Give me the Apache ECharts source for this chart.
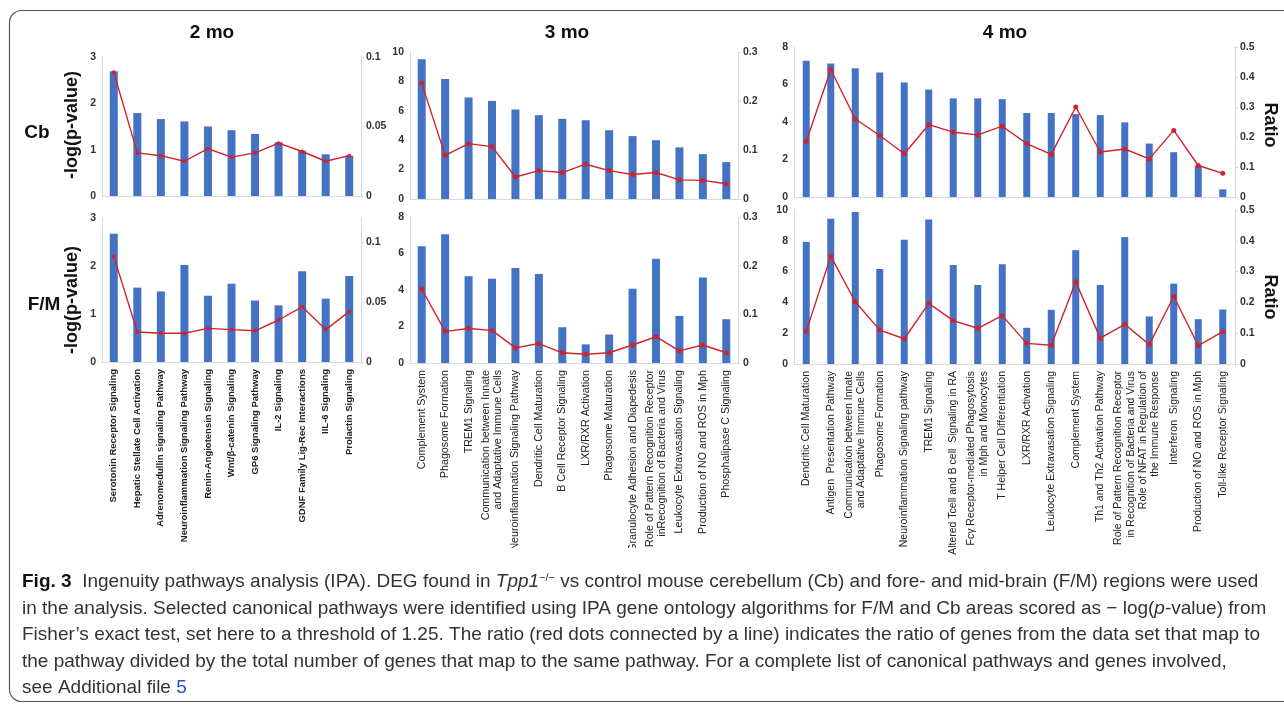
<!DOCTYPE html>
<html>
<head>
<meta charset="utf-8">
<script src="https://cdn.jsdelivr.net/npm/echarts@6/dist/echarts.min.js"></script>
<style>
  html, body { margin: 0; background: #fff; }
  #chart { width: 1284px; height: 706px; }
</style>
</head>
<body>
<div id="chart"></div>
<script>
// ── categories ──
const cats2 = [
  "Serotonin Receptor Signaling", "Hepatic Stellate Cell Activation", "Adrenomedullin signaling Pathway",
  "Neuroinflammation Signaling Pathway", "Renin-Angiotensin Signaling", "Wnt/β-catenin Signaling",
  "GP6 Signaling Pathway", "IL-2 Signaling", "GDNF Family Lig-Rec Interactions", "IIL-6 Signaling",
  "Prolactin Signaling"
];
const cats3 = [
  "Complement System", "Phagosome Formation", "TREM1 Signaling",
  "Communication between Innate\nand Adaptative Immune Cells", "Neuroinflammation Signaling Pathway",
  "Dendritic Cell Maturation", "B Cell Receptor Signaling", "LXR/RXR Activation", "Phagosome Maturation",
  "Granulocyte Adhesion and Diapedesis", "Role of Pattern Recognition Receptor\ninRecognition of Bacteria and Virus",
  "Leukocyte Extravasation Signaling", "Production of NO and ROS in Mph", "Phosphalipase C Signaling"
];
const cats4 = [
  "Dendritic Cell Maturation", "Antigen  Presentation Pathway",
  "Communication between Innate\nand Adaptative Immune Cells", "Phagosome Formation",
  "Neuroinflammation Signaling pathway", "TREM1 Signaling", "Altered Tcell and B cell  Signaling in RA",
  "Fcγ Receptor-mediated Phagosytosis\nin Mph and Monocytes", "T Helper Cell Differentiation",
  "LXR/RXR Activation", "Leukocyte Extravasation Signaling", "Complement System",
  "Th1 and Th2 Activation Pathway", "Role of Pattern Recognition Receptor\nin Recognition of Bacteria and Virus",
  "Role of NFAT in Regulation of\nthe Immune Response", "Interferon  Signaling",
  "Production of NO and ROS in Mph", "Toll-like Receptor Signaling"
];

// ── -log(p-value) bars and ratio line, per age / region ──
const cb2Bar = [2.69, 1.79, 1.66, 1.61, 1.50, 1.42, 1.34, 1.16, 0.98, 0.90, 0.87];
const cb2Ratio = [0.089, 0.031, 0.029, 0.025, 0.034, 0.028, 0.031, 0.038, 0.032, 0.025, 0.029];
const fm2Bar = [2.67, 1.55, 1.47, 2.02, 1.38, 1.63, 1.28, 1.18, 1.89, 1.32, 1.79];
const fm2Ratio = [0.088, 0.025, 0.024, 0.024, 0.028, 0.027, 0.026, 0.035, 0.046, 0.027, 0.042];

const cb3Bar = [9.50, 8.17, 6.90, 6.67, 6.09, 5.70, 5.45, 5.36, 4.68, 4.28, 4.00, 3.51, 3.05, 2.51];
const cb3Ratio = [0.236, 0.089, 0.113, 0.107, 0.045, 0.058, 0.054, 0.071, 0.058, 0.050, 0.054, 0.039, 0.038, 0.031];
const fm3Bar = [6.40, 7.05, 4.76, 4.62, 5.20, 4.87, 1.96, 1.02, 1.56, 4.07, 5.71, 2.58, 4.69, 2.40];
const fm3Ratio = [0.152, 0.065, 0.071, 0.067, 0.031, 0.040, 0.021, 0.018, 0.021, 0.037, 0.054, 0.025, 0.037, 0.021];

const cb4Bar = [7.27, 7.12, 6.87, 6.64, 6.11, 5.73, 5.26, 5.26, 5.22, 4.48, 4.48, 4.42, 4.37, 3.98, 2.85, 2.39, 1.68, 0.41];
const cb4Ratio = [0.185, 0.425, 0.26, 0.205, 0.144, 0.241, 0.216, 0.207, 0.236, 0.178, 0.142, 0.30, 0.15, 0.16, 0.127, 0.222, 0.105, 0.079];
const fm4Bar = [7.93, 9.43, 9.87, 6.17, 8.07, 9.39, 6.43, 5.13, 6.48, 2.35, 3.52, 7.39, 5.13, 8.24, 3.09, 5.22, 2.91, 3.54];
const fm4Ratio = [0.106, 0.35, 0.202, 0.110, 0.082, 0.197, 0.141, 0.116, 0.157, 0.067, 0.061, 0.267, 0.084, 0.129, 0.063, 0.219, 0.060, 0.105];

// ── caption lines ──
const captionLines = [
  "{b|Fig. 3}  Ingenuity pathways analysis (IPA). DEG found in {i|Tpp1}{s|−/−} vs control mouse cerebellum (Cb) and fore- and mid-brain (F/M) regions were used",
  "in the analysis. Selected canonical pathways were identified using IPA gene ontology algorithms for F/M and Cb areas scored as − log({i|p}-value) from",
  "Fisher’s exact test, set here to a threshold of 1.25. The ratio (red dots connected by a line) indicates the ratio of genes from the data set that map to",
  "the pathway divided by the total number of genes that map to the same pathway. For a complete list of canonical pathways and genes involved,",
  "see Additional file {l|5}"
];

const FONT = '"Liberation Sans", Arial, sans-serif';
const BLUE = "#4472C4", RED = "#D3222A", AXIS = "#d9d9d9";

const panels = [
  { grid: { left: 102, top: 57, width: 259, height: 139 }, cats: cats2, bar: cb2Bar, ratio: cb2Ratio,
    yMax: 3, yInt: 1, rMax: 0.1, rInt: 0.05, bw: 8, sym: 4, cat: null },
  { grid: { left: 102, top: 218, width: 259, height: 144 }, cats: cats2, bar: fm2Bar, ratio: fm2Ratio,
    yMax: 3, yInt: 1, rMax: 0.12, rInt: 0.05, bw: 8, sym: 4, cat: { size: 9.5, weight: "bold" } },
  { grid: { left: 410, top: 52, width: 328, height: 147 }, cats: cats3, bar: cb3Bar, ratio: cb3Ratio,
    yMax: 10, yInt: 2, rMax: 0.3, rInt: 0.1, bw: 8, sym: 5, cat: null },
  { grid: { left: 410, top: 217, width: 328, height: 146 }, cats: cats3, bar: fm3Bar, ratio: fm3Ratio,
    yMax: 8, yInt: 2, rMax: 0.3, rInt: 0.1, bw: 8, sym: 5, cat: { size: 10.7, weight: "normal" } },
  { grid: { left: 794, top: 47, width: 441, height: 150 }, cats: cats4, bar: cb4Bar, ratio: cb4Ratio,
    yMax: 8, yInt: 2, rMax: 0.5, rInt: 0.1, bw: 7, sym: 5, cat: null },
  { grid: { left: 794, top: 210, width: 441, height: 154 }, cats: cats4, bar: fm4Bar, ratio: fm4Ratio,
    yMax: 10, yInt: 2, rMax: 0.5, rInt: 0.1, bw: 7, sym: 5, cat: { size: 10.5, weight: "normal" } },
];

const tickLabel = { fontFamily: FONT, fontSize: 10.5, fontWeight: "bold", color: "#333" };
const grids = [], xAxes = [], yAxes = [], series = [];

panels.forEach((p, i) => {
  grids.push(p.grid);
  xAxes.push({
    type: "category", gridIndex: i, data: p.cats,
    axisLine: { lineStyle: { color: AXIS } }, axisTick: { show: false },
    axisLabel: p.cat ? {
      rotate: 90, interval: 0, margin: 7, align: "right", lineHeight: 12.5,
      fontFamily: FONT, fontSize: p.cat.size, fontWeight: p.cat.weight, color: "#222"
    } : { show: false },
  });
  yAxes.push({
    type: "value", gridIndex: i, position: "left", min: 0, max: p.yMax, interval: p.yInt,
    splitLine: { show: false }, axisTick: { show: false },
    axisLine: { show: true, lineStyle: { color: AXIS } },
    axisLabel: { ...tickLabel, margin: 6 },
  });
  // 2 mo F/M ratio axis tops out at 0.12 with no label there
  const rem = p.rMax % p.rInt;
  yAxes.push({
    type: "value", gridIndex: i, position: "right", min: 0, max: p.rMax, interval: p.rInt,
    splitLine: { show: false },
    axisTick: { show: true, length: 3, lineStyle: { color: AXIS } },
    axisLine: { show: true, lineStyle: { color: AXIS } },
    axisLabel: { ...tickLabel, margin: 5, showMaxLabel: rem < 1e-9 || p.rInt - rem < 1e-9 },
  });
  series.push({
    type: "bar", xAxisIndex: i, yAxisIndex: 2 * i, data: p.bar,
    barWidth: p.bw, itemStyle: { color: BLUE },
  });
  series.push({
    type: "line", xAxisIndex: i, yAxisIndex: 2 * i + 1, data: p.ratio,
    symbol: "circle", symbolSize: p.sym,
    lineStyle: { color: RED, width: 1.4 }, itemStyle: { color: RED },
  });
});

// ── titles, side labels, frame and caption ──
const bold = (text, x, y, size, rot) => ({
  type: "text", x, y, rotation: rot || 0, z: 50,
  style: { text, fontFamily: FONT, fontSize: size, fontWeight: "bold", fill: "#111", align: "center", verticalAlign: "middle" },
});
const capTok = (extra) => ({ fontFamily: FONT, fontSize: 19, fill: "#333", ...extra });

const graphic = [
  { type: "rect", z: 0, shape: { x: 9.5, y: 10.5, width: 1320, height: 691, r: 12 },
    style: { fill: "none", stroke: "#555", lineWidth: 1.2 } },
  // 3 mo panel image is cut off at its bottom edge
  { type: "rect", z: 100, shape: { x: 385, y: 548, width: 385, height: 18 }, style: { fill: "#fff" } },
  bold("2 mo", 212, 33, 19), bold("3 mo", 567, 33, 19), bold("4 mo", 1005, 33, 19),
  bold("Cb", 37, 133, 19), bold("F/M", 44, 305, 19),
  bold("-log(p-value)", 72, 125, 18, Math.PI / 2), bold("-log(p-value)", 72, 300, 18, Math.PI / 2),
  bold("Ratio", 1270, 125, 18, -Math.PI / 2), bold("Ratio", 1270, 297, 18, -Math.PI / 2),
];
captionLines.forEach((t, k) => {
  graphic.push({
    type: "text", x: 22, y: 582 + k * 26.5, z: 50,
    style: {
      text: t, ...capTok({}), verticalAlign: "middle", align: "left",
      rich: {
        b: capTok({ fontWeight: "bold", fill: "#111" }),
        i: capTok({ fontStyle: "italic" }),
        s: capTok({ fontSize: 11, verticalAlign: "top", lineHeight: 10 }),
        l: capTok({ fill: "#2b50c8" }),
      },
    },
  });
});

const chart = echarts.init(document.getElementById("chart"), null, { renderer: "canvas" });
chart.setOption({
  animation: false,
  backgroundColor: "#fff",
  grid: grids, xAxis: xAxes, yAxis: yAxes, series, graphic,
});
</script>
</body>
</html>
